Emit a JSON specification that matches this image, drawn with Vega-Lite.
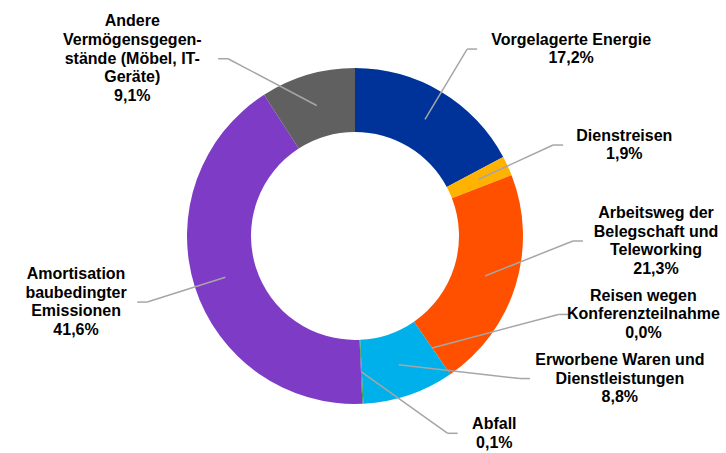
{
  "$schema": "https://vega.github.io/schema/vega-lite/v6.json",
  "width": 710,
  "height": 434,
  "padding": {"left": 0, "top": 19, "right": 16, "bottom": 0},
  "autosize": {"type": "none"},
  "background": "white",
  "config": {"view": {"stroke": null}},
  "data": {
    "values": [
      {"nr": 1, "kategorie": "Vorgelagerte Energie", "anteil": 17.2, "label": "Vorgelagerte Energie"},
      {"nr": 2, "kategorie": "Dienstreisen", "anteil": 1.9, "label": "Dienstreisen"},
      {"nr": 3, "kategorie": "Arbeitsweg der Belegschaft und Teleworking", "anteil": 21.3, "label": "Arbeitsweg der\nBelegschaft und\nTeleworking"},
      {"nr": 4, "kategorie": "Reisen wegen Konferenzteilnahme", "anteil": 0.0, "label": "Reisen wegen\nKonferenzteilnahme"},
      {"nr": 5, "kategorie": "Erworbene Waren und Dienstleistungen", "anteil": 8.8, "label": "Erworbene Waren und\nDienstleistungen"},
      {"nr": 6, "kategorie": "Abfall", "anteil": 0.1, "label": "Abfall"},
      {"nr": 7, "kategorie": "Amortisation baubedingter Emissionen", "anteil": 41.6, "label": "Amortisation\nbaubedingter\nEmissionen"},
      {"nr": 8, "kategorie": "Andere Vermögensgegenstände (Möbel, IT-Geräte)", "anteil": 9.1, "label": "Andere\nVermögensgegen-\nstände (Möbel, IT-\nGeräte)"}
    ]
  },
  "transform": [
    {"window": [{"op": "sum", "field": "anteil", "as": "cum"}], "sort": [{"field": "nr", "order": "ascending"}], "frame": [null, 0]},
    {"calculate": "(datum.cum - datum.anteil / 2) / 100 * 2 * PI", "as": "winkel"},
    {"calculate": "datum.winkel < PI ? 1 : -1", "as": "seite"},
    {"calculate": "136 * sin(datum.winkel)", "as": "sx"},
    {"calculate": "136 * cos(datum.winkel)", "as": "sy"},
    {"calculate": "replace(format(datum.anteil, '.1f'), '.', ',') + '%'", "as": "prozent"},
    {"calculate": "length(split(datum.label, '\\n')) + 1", "as": "n"},
    {"calculate": "datum.n * 18.7 + 8", "as": "h"},
    {"calculate": "max(218 * cos(datum.winkel), -216 + datum.n * 9.35)", "as": "ny"},
    {"calculate": "-datum.seite * datum.winkel", "as": "sk"},
    {"window": [{"op": "sum", "field": "h", "as": "S"}], "groupby": ["seite"], "sort": [{"field": "sk", "order": "ascending"}], "frame": [null, 0]},
    {"calculate": "datum.S - datum.h / 2", "as": "C"},
    {"calculate": "datum.ny - datum.C", "as": "t"},
    {"window": [{"op": "max", "field": "t", "as": "tmax"}], "groupby": ["seite"], "sort": [{"field": "sk", "order": "ascending"}], "frame": [null, 0]},
    {"calculate": "min(datum.C + datum.tmax, 224 - datum.n * 9.35)", "as": "ky"},
    {"calculate": "datum.seite * sqrt(max(218 * 218 - datum.ky * datum.ky, 0))", "as": "kx"},
    {"calculate": "datum.kx + datum.seite * 10", "as": "ex"}
  ],
  "layer": [
    {
      "mark": {"type": "arc", "innerRadius": 104, "outerRadius": 168},
      "encoding": {
        "theta": {"field": "anteil", "type": "quantitative", "stack": true},
        "order": {"field": "nr", "type": "quantitative"},
        "color": {
          "field": "kategorie",
          "type": "nominal",
          "legend": null,
          "scale": {
            "domain": [
              "Vorgelagerte Energie",
              "Dienstreisen",
              "Arbeitsweg der Belegschaft und Teleworking",
              "Reisen wegen Konferenzteilnahme",
              "Erworbene Waren und Dienstleistungen",
              "Abfall",
              "Amortisation baubedingter Emissionen",
              "Andere Vermögensgegenstände (Möbel, IT-Geräte)"
            ],
            "range": ["#003399", "#FFB300", "#FF5000", "#A5A5A5", "#00B0EA", "#2E9E4A", "#7E3CC6", "#606060"]
          }
        }
      }
    },
    {
      "mark": {"type": "rule", "color": "#A6A6A6", "strokeWidth": 1.5},
      "encoding": {
        "x": {"field": "sx", "type": "quantitative", "scale": {"domain": [-355, 355], "nice": false, "zero": false}, "axis": null},
        "y": {"field": "sy", "type": "quantitative", "scale": {"domain": [-217, 217], "nice": false, "zero": false}, "axis": null},
        "x2": {"field": "kx"},
        "y2": {"field": "ky"}
      }
    },
    {
      "mark": {"type": "rule", "color": "#A6A6A6", "strokeWidth": 1.5},
      "encoding": {
        "x": {"field": "kx", "type": "quantitative", "scale": {"domain": [-355, 355], "nice": false, "zero": false}, "axis": null},
        "y": {"field": "ky", "type": "quantitative", "scale": {"domain": [-217, 217], "nice": false, "zero": false}, "axis": null},
        "x2": {"field": "ex"},
        "y2": {"field": "ky"}
      }
    },
    {
      "transform": [
        {"calculate": "split(datum.label + '\\n' + datum.prozent, '\\n')", "as": "alle"},
        {"flatten": ["alle"], "as": ["zeile"]},
        {"window": [{"op": "row_number", "as": "i"}], "groupby": ["kategorie"]},
        {"calculate": "length(datum.zeile)", "as": "len"},
        {"joinaggregate": [{"op": "max", "field": "len", "as": "maxlen"}], "groupby": ["kategorie"]},
        {"calculate": "datum.ex + datum.seite * (12 + datum.maxlen * 4.1)", "as": "tx0"},
        {"calculate": "datum.seite > 0 ? min(datum.tx0, 364 - datum.maxlen * 4.2) : max(datum.tx0, -352 + datum.maxlen * 4.2)", "as": "tx"},
        {"calculate": "datum.ky + ((datum.n + 1) / 2 - datum.i) * 18.7", "as": "ty"}
      ],
      "mark": {"type": "text", "align": "center", "baseline": "middle", "font": "Liberation Sans", "fontSize": 16, "fontWeight": "bold", "color": "#000000"},
      "encoding": {
        "x": {"field": "tx", "type": "quantitative", "scale": {"domain": [-355, 355], "nice": false, "zero": false}, "axis": null},
        "y": {"field": "ty", "type": "quantitative", "scale": {"domain": [-217, 217], "nice": false, "zero": false}, "axis": null},
        "text": {"field": "zeile", "type": "nominal"}
      }
    }
  ]
}
